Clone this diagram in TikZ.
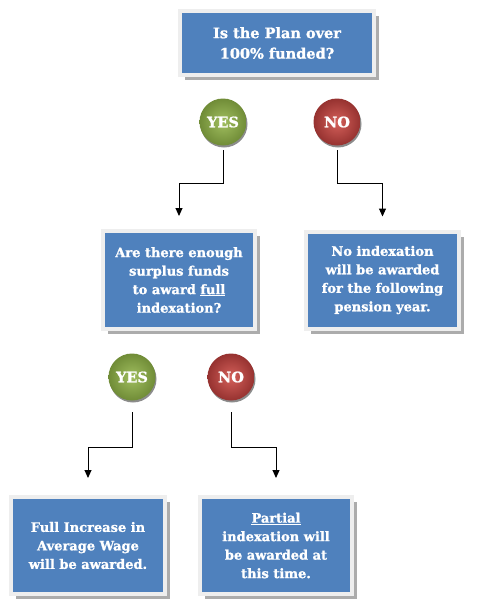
\documentclass[tikz,border=0pt]{standalone}
\usepackage{fontspec}
\setmainfont{DejaVu Serif}[BoldFeatures={FakeBold=1.2}]
\usepackage{xcolor}
\usetikzlibrary{arrows.meta,shadows}
\definecolor{boxblue}{RGB}{79,129,189}
\definecolor{frame}{RGB}{238,238,238}
\definecolor{yesdark}{RGB}{112,140,55}
\definecolor{yeslight}{RGB}{160,190,95}
\definecolor{nodark}{RGB}{150,50,48}
\definecolor{nolight}{RGB}{212,96,90}

\begin{document}
\begin{tikzpicture}[x=1pt,y=-1pt,>={Triangle[width=7pt,length=8pt]},
 font=\bfseries\fontsize{13}{18.5}\selectfont,
 qbox/.style={fill=boxblue,draw=frame,line width=4pt,text=white,align=center,inner sep=0pt,
   drop shadow={shadow xshift=5pt,shadow yshift=-5pt,fill=gray!65,opacity=1}},
 ans/.style={circle,minimum size=47pt,inner sep=0pt,text=white,shading=radial,
   font=\bfseries\fontsize{14.5}{17}\selectfont,
   drop shadow={shadow xshift=1pt,shadow yshift=-2pt,fill=black!45,opacity=1}},
 link/.style={->,line width=1pt}]
 \useasboundingbox (0,0) rectangle (500,606);
 % first question
 \node[qbox,minimum width=194pt,minimum height=64pt,font=\bfseries\fontsize{14.5}{20.5}\selectfont]
   (plan) at (277,43) {Is the Plan over\\100\% funded?};
 \node[ans,inner color=yeslight,outer color=yesdark] (yes1) at (223,122) {YES};
 \node[ans,inner color=nolight,outer color=nodark] (no1) at (337,122) {NO};
 % second row
 \node[qbox,minimum width=152pt,minimum height=98pt] (surplus) at (179,280)
   {Are there enough\\surplus funds\\to award \underline{full}\\indexation?};
 \node[qbox,minimum width=153pt,minimum height=97pt] (none) at (382.5,280)
   {No indexation\\will be awarded\\for the following\\pension year.};
 \draw[link,shorten <=4.5pt,shorten >=13pt] (yes1.south) -- ++(0,37.5) -| (surplus.north);
 \draw[link,shorten <=4.5pt,shorten >=13pt] (no1.south) -- ++(0,37.5) -| (none.north);
 % answers to second question
 \node[ans,inner color=yeslight,outer color=yesdark] (yes2) at (132,377) {YES};
 \node[ans,inner color=nolight,outer color=nodark] (no2) at (231,377) {NO};
 \node[qbox,minimum width=154pt,minimum height=97pt] (full) at (88,545.5)
   {Full Increase in\\Average Wage\\will be awarded.};
 \node[qbox,minimum width=152pt,minimum height=97pt] (partial) at (276,545.5)
   {\underline{Partial}\\indexation will\\be awarded at\\this time.};
 \draw[link,shorten <=11.5pt,shorten >=17pt] (yes2.south) -- ++(0,46.5) -| (full.north);
 \draw[link,shorten <=11.5pt,shorten >=17pt] (no2.south) -- ++(0,46.5) -| (partial.north);
\end{tikzpicture}
\end{document}
